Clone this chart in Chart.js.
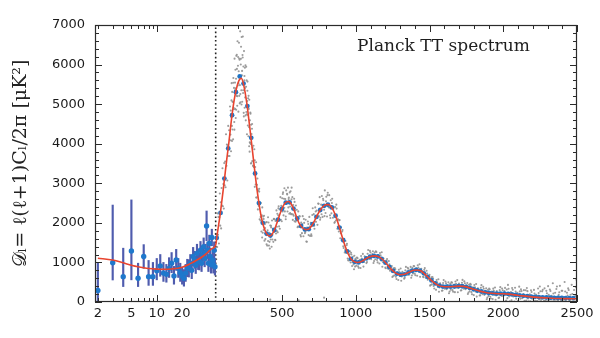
<!DOCTYPE html>
<html><head><meta charset="utf-8">
<script src="https://cdn.jsdelivr.net/npm/chart.js@4.4.1/dist/chart.umd.min.js"></script>
<style>html,body{margin:0;padding:0;background:#fff}</style>
</head><body>
<canvas id="c" width="600" height="338"></canvas>
<script>
// ---- best-fit model curve (multipole, D_ell in muK^2) ----
const modelEll = [2,3,4,5,6,7,8,10,12,15,20,25,30,35,40,45,50,60,70,80,90,100,110,125,140,160,180,200,215,225,240,260,280,300,320,340,360,380,400,415,430,450,470,490,510,530,545,560,580,600,620,640,660,680,700,720,740,760,780,800,815,830,850,870,890,910,930,950,970,990,1010,1030,1050,1080,1110,1130,1150,1180,1210,1240,1270,1300,1330,1360,1390,1415,1440,1470,1500,1530,1560,1590,1620,1660,1700,1730,1760,1800,1840,1880,1920,1960,2000,2040,2080,2130,2180,2230,2280,2330,2380,2430,2500];
const modelD = [1105,1060,990,930,890,865,848,832,826,835,880,970,1060,1150,1250,1350,1440,1700,1950,2200,2500,2800,3120,3600,4050,4700,5200,5520,5640,5650,5480,5050,4450,3800,3150,2580,2130,1850,1700,1670,1700,1840,2050,2270,2440,2530,2540,2490,2340,2130,1960,1870,1830,1840,1920,2050,2200,2330,2420,2460,2460,2420,2300,2110,1870,1620,1390,1200,1080,1020,1000,1010,1050,1120,1160,1165,1150,1080,960,830,730,690,700,750,800,810,790,700,590,490,420,390,385,390,400,395,370,320,275,240,220,210,210,200,180,155,135,118,105,95,88,85,82];

// ---- low-ell points with error bars ----
const lowEll = [2,3,4,5,6,7,8,9,10,11,12,13,14,15,16,17,18,19,20,21,22,23,24,25,26,27,28,29,30,31,32,33,34,35,36,37,38,39,40,41,42,43,44,45,46,47,48,49];
const lowD   = [290,990,640,1290,600,1150,640,640,790,910,730,700,850,980,660,1060,850,740,660,600,730,860,850,980,800,1150,1060,930,1230,1030,1020,1310,980,1190,1400,1100,1250,1920,1310,980,1480,1150,940,1630,1060,940,1310,890];
const lowLo  = [-100,556,390,560,390,850,420,420,560,650,520,500,620,740,450,800,620,520,450,400,520,640,630,760,590,920,850,720,1000,820,810,1090,770,980,1180,890,1040,1550,1100,770,1270,940,730,1420,850,730,1100,680];
const lowHi  = [980,2450,1360,2580,980,1450,1050,1000,1100,1200,1000,950,1120,1250,900,1330,1100,980,880,820,950,1080,1070,1200,1020,1380,1280,1150,1460,1250,1230,1530,1190,1400,1620,1310,1460,2300,1520,1190,1690,1360,1150,1840,1270,1150,1520,1100];

// ---- binned high-ell points ----
const binEll = [57,83,109,135,161,187,213,239,265,291,317,343,369,395,421,447,473,499,525,551,577,603,629,655,681,707,733,759,785,811,837,863,889,915,941,967,993,1019,1045,1071,1097,1123,1149,1175,1201,1227,1253,1279,1305,1331,1357,1383,1409,1435,1461,1487,1513,1539,1565,1591,1617,1643,1669,1695,1721,1747,1773,1799,1825,1851,1877,1903,1929,1955,1981,2007,2033,2059,2085,2111,2137,2163,2189,2215,2241,2267,2293,2319,2345,2371,2397,2423,2449,2475];
const binD = [1620,2250,3120,3880,4720,5300,5700,5520,4950,4150,3250,2500,2000,1730,1680,1820,2080,2350,2510,2520,2360,2110,1920,1835,1840,1965,2150,2325,2430,2460,2390,2180,1880,1560,1280,1090,1015,1000,1040,1100,1145,1165,1150,1090,995,885,785,715,690,700,745,790,810,795,725,635,545,470,415,390,385,388,392,400,398,380,355,320,290,265,243,228,218,211,212,210,204,192,178,168,156,146,138,130,124,118,114,110,106,103,101,100,99,98];

// ---- unbinned scatter (grey), first set ----
const grayEll = [
51,54,57,60,63,66,69,72,75,78,81,84,87,90,93,96,99,102,105,108,111,114,117,120,123,126,129,132,135,138,141,144,147,150,
152,154,156,158,160,162,164,166,168,170,172,174,176,178,180,182,184,186,188,190,192,194,196,198,200,202,204,206,208,210,212,214,216,218,220,222,224,226,228,230,232,234,236,238,240,242,244,246,248,250,252,254,256,258,260,262,264,266,268,270,272,274,276,278,280,282,284,286,288,290,292,294,296,298,300,
303,306,309,312,315,318,321,324,327,330,333,336,339,342,345,348,351,354,357,360,363,366,369,372,375,378,381,384,387,390,393,396,399,402,405,408,411,414,417,420,423,426,429,432,435,438,441,444,447,450,453,456,459,462,465,468,471,474,477,480,483,486,489,492,495,498,501,504,507,510,513,516,519,522,525,528,531,534,537,540,543,546,549,552,555,558,561,564,567,570,573,576,579,582,585,588,591,594,597,600,
605,610,615,620,625,630,635,640,645,650,655,660,665,670,675,680,685,690,695,700,705,710,715,720,725,730,735,740,745,750,755,760,765,770,775,780,785,790,795,800,805,810,815,820,825,830,835,840,845,850,855,860,865,870,875,880,885,890,895,900,905,910,915,920,925,930,935,940,945,950,955,960,965,970,975,980,985,990,995,1000,
1008,1016,1024,1032,1040,1048,1056,1064,1072,1080,1088,1096,1104,1112,1120,1128,1136,1144,1152,1160,1168,1176,1184,1192,1200,1208,1216,1224,1232,1240,1248,1256,1264,1272,1280,1288,1296,1304,1312,1320,1328,1336,1344,1352,1360,1368,1376,1384,1392,1400,1408,1416,1424,1432,1440,1448,1456,1464,1472,1480,1488,1496,1504,1512,1520,1528,1536,1544,1552,1560,1568,1576,1584,1592,1600,1608,1616,1624,1632,1640,1648,1656,1664,1672,1680,1688,1696,1704,1712,1720,1728,1736,1744,1752,1760,1768,1776,1784,1792,1800,1808,1816,1824,1832,1840,1848,1856,1864,1872,1880,1888,1896,1904,1912,1920,1928,1936,1944,1952,1960,1968,1976,1984,1992,2000,2008,2016,2024,2032,2040,2048,2056,2064,2072,2080,2088,2096,2104,2112,2120,2128,2136,2144,2152,2160,2168,2176,2184,2192,2200,2208,2216,2224,2232,2240,2248,2256,2264,2272,2280,2288,2296,2304,2312,2320,2328,2336,2344,2352,2360,2368,2376,2384,2392,2400,2408,2416,2424,2432,2440,2448,2456,2464,2472,2480,2488,2496,
420,612,785];
const grayD = [
1725,1080,1720,1390,2240,1700,2150,1480,2140,2740,1930,2520,1860,2880,2440,3380,2420,2980,2360,3510,2950,3550,2900,4240,3440,3980,3070,3960,4450,3690,4340,3690,4940,4230,
4840,3810,4670,5530,4450,5310,4360,5060,4110,5660,4910,5410,4550,6150,5350,4880,5870,4650,5640,6220,5210,5890,4960,6590,5470,6190,4810,5830,6550,5210,6120,5480,6840,5045,6000,6450,5350,6695,5730,5060,6240,6710,5280,5950,4780,6340,5600,4910,5920,5170,5980,4590,5440,4800,5600,4240,5080,5570,4460,5150,4190,4880,4420,5110,3800,4590,4020,4760,3990,4480,3510,4140,4380,3560,3900,
3450,3950,3410,3860,2910,3410,2970,3530,2640,2960,3120,2340,2810,2430,2860,2090,2470,2060,2500,1780,2190,2390,1750,2160,1820,2180,1550,1970,1590,2010,1690,2020,1425,1815,1540,2010,1425,1750,1350,1935,1580,1885,1395,2060,1580,1850,1520,2095,1770,2090,1570,2050,1730,2315,1900,2230,1760,2190,2420,1910,2340,2070,2650,2080,2360,2040,2620,2290,2770,2190,2610,2875,2290,2600,2160,2820,2480,2735,2288,2890,2390,2640,2230,2770,2415,2800,2220,2595,2220,2650,2075,2450,2180,2610,2040,2310,2030,2440,2060,2330,
1890,2290,1900,2160,1690,2010,1740,2170,1660,2000,1740,2080,1530,1882,2035,1690,2150,1670,2000,1670,2200,1935,2220,1850,2390,2025,2310,1950,2490,2170,2650,2130,2460,2680,2150,2570,2330,2820,2250,2660,2160,2760,2410,2700,2190,2570,2240,2610,2130,2400,2000,2400,2060,2360,1850,2090,1780,2070,1610,1890,1580,1820,1410,1600,1250,1540,1240,1470,1100,1300,1050,1280,1000,1200,910,1145,950,1170,895,1070,
1123,900,1047,861,1100,1215,1012,1093,983,1220,1110,1291,1084,1210,984,1250,1283,1061,1180,973,1178,1257,1008,1034,868,1048,896,1033,792,880,630,852,858,637,747,557,758,845,646,705,590,799,702,867,686,810,612,865,910,716,844,665,871,953,745,783,638,813,672,790,563,647,413,625,632,406,507,307,499,575,367,414,286,481,369,518,321,431,222,462,498,300,427,249,461,553,355,410,289,487,374,521,321,423,204,434,459,249,364,174,374,454,245,291,164,357,241,383,181,285,70,306,337,134,256,73,281,368,167,220,100,300,190,340,144,278,20,314,432,139,211,42,308,154,360,85,231,10,268,320,96,198,29,296,352,89,156,15,251,98,306,33,180,18,225,393,51,269,127,345,24,222,401,59,277,156,475,23,232,330,60,179,408,37,286,116,506,25,235,344,44,184,433,63,302,152,562,
60,40,110];

// ---- unbinned scatter (grey), second set ----
const grayEll2 = [
153,157,161,165,169,173,177,181,185,189,193,197,201,205,209,213,217,221,225,229,233,237,241,245,249,253,257,261,265,269,273,277,281,285,289,293,297,
305,315,325,335,345,355,365,375,385,395,405,415,425,435,445,455,465,475,485,495,505,515,525,535,545,555,565,575,585,595,
608,618,628,638,648,658,668,678,688,698,708,718,728,738,748,758,768,778,788,798,808,818,828,838,848,858,868,878,888,898,908,918,928,938,948,958,968,978,988,998,
1004,1012,1020,1028,1036,1044,1052,1060,1068,1076,1084,1092,1100,1108,1116,1124,1132,1140,1148,1156,1164,1172,1180,1188,1196,1204,1212,1220,1228,1236,1244,1252,1260,1268,1276,1284,1292,1300,1308,1316,1324,1332,1340,1348,1356,1364,1372,1380,1388,1396,1404,1412,1420,1428,1436,1444,1452,1460,1468,1476,1484,1492,1500,1508,1516,1524,1532,1540,1548,1556,1564,1572,1580,1588,1596,1604,1612,1620,1628,1636,1644,1652,1660,1668,1676,1684,1692,1700,1708,1716,1724,1732,1740,1748,1756,1764,1772,1780,1788,1796,1804,1812,1820,1828,1836,1844,1852,1860,1868,1876,1884,1892,1900,1908,1916,1924,1932,1940,1948,1956,1964,1972,1980,1988,1996,2004,2012,2020,2028,2036,2044,2052,2060,2068,2076,2084,2092,2100,2108,2116,2124,2132,2140,2148,2156,2164,2172,2180,2188,2196,2204,2212,2220,2228,2236,2244,2252,2260,2268,2276,2284,2292,2300,2308,2316,2324,2332,2340,2348,2356,2364,2372,2380,2388,2396,2404,2412,2420,2428,2436,2444,2452,2460,2468,2476,2484,2492];
const grayD2 = [
4085,5095,4070,5060,5540,4870,4355,5545,5400,4860,6250,5200,5970,5525,6155,5020,5257,6145,4990,5840,6180,5350,4690,5710,5405,4715,5945,4745,5340,4725,5210,3935,4035,4785,3500,4245,4500,
3430,3580,2640,2840,2790,2150,1630,2100,1870,1460,2140,1520,1925,1700,2100,1560,1790,2370,1850,2430,2730,2380,2090,2715,2600,2245,2890,2210,2530,2150,
1906,2173,1656,1968,2097,1769,1522,1970,1904,1712,2370,1930,2286,2163,2480,2078,2216,2608,2171,2543,2702,2389,2122,2502,2354,2022,2460,1900,2066,1738,1780,1366,1312,1436,1052,1206,1244,1008,829,1096,
919,1108,863,1064,1162,1009,894,1155,1127,1012,1315,1086,1250,1148,1284,1033,1079,1264,1001,1176,1240,1051,890,1096,1012,854,1086,838,950,819,910,651,671,826,580,746,814,657,537,761,722,610,887,682,839,754,887,669,723,905,677,854,927,765,636,839,770,624,857,605,716,591,688,429,445,595,340,496,555,387,258,470,418,292,554,333,474,375,497,266,311,489,260,438,517,365,246,466,421,298,559,336,474,367,479,238,272,438,197,363,430,266,136,347,296,168,426,198,334,229,345,110,150,323,89,262,337,180,58,276,232,111,375,155,297,193,356,39,97,334,16,252,353,139,12,265,201,32,388,85,276,138,299,8,37,274,20,193,296,83,14,213,150,22,340,63,271,99,307,30,34,282,18,179,317,66,10,213,132,20,390,39,248,77,286,14,16,265,12,164,304,54,8,203,122,10,382];

// ---- axis ticks ----
const xTickLabels = [2,5,10,20,500,1000,1500,2000,2500];
const xTickMarks = [2,3,4,5,6,7,8,9,10,20,30,40,100,200,300,400,500,600,700,800,900,1000,1100,1200,1300,1400,1500,1600,1700,1800,1900,2000,2100,2200,2300,2400,2500];
const xLongTicks = [10,500,1000,1500,2000,2500];
const splitEll = 50;

// hybrid axis: logarithmic below ell=50, linear above
const L_MIN = 1.85, PX_DEC = 84.4;
const LOG_W = PX_DEC * Math.log10(splitEll / L_MIN);
const LIN_K = 361.8 / 2450;
const toU = l => l <= splitEll ? PX_DEC * Math.log10(l / L_MIN) : LOG_W + (l - splitEll) * LIN_K;
const U_MAX = toU(2500);
const pts = (ls, ds) => ls.map((l, i) => ({x: toU(l), y: ds[i]}));

const decor = {
  id: 'decor',
  afterDatasetsDraw(chart) {
    const {ctx, chartArea: a, scales: {x, y}} = chart;
    ctx.save();
    ctx.strokeStyle = '#2b2b2b';
    ctx.lineWidth = 1;
    ctx.beginPath();
    for (const l of xTickMarks) {
      const px = Math.round(x.getPixelForValue(toU(l))) + 0.5;
      const len = xLongTicks.includes(l) ? 7 : 4;
      ctx.moveTo(px, a.bottom); ctx.lineTo(px, a.bottom - len);
      ctx.moveTo(px, a.top); ctx.lineTo(px, a.top + len);
    }
    for (let v = 0; v <= 7000; v += 200) {
      const py = Math.round(y.getPixelForValue(v)) + 0.5;
      const len = v % 1000 === 0 ? 7 : 4;
      ctx.moveTo(a.left, py); ctx.lineTo(a.left + len, py);
      ctx.moveTo(a.right, py); ctx.lineTo(a.right - len, py);
    }
    ctx.stroke();
    ctx.lineWidth = 1.2;
    ctx.strokeRect(a.left + 0.5, a.top + 0.5, a.right - a.left - 1, a.bottom - a.top - 1);
    ctx.fillStyle = '#1e1e1e';
    ctx.font = '17px "DejaVu Serif"';
    ctx.textBaseline = 'middle';
    ctx.fillText('Planck TT spectrum', a.left + 262, a.top + 22);
    ctx.restore();
  }
};

const grayPts = pts(grayEll, grayD).concat(pts(grayEll2, grayD2));

new Chart(document.getElementById('c'), {
  type: 'scatter',
  data: {
    datasets: [
      {type: 'line', data: pts(modelEll, modelD), borderColor: '#e8442f', borderWidth: 1.6, pointRadius: 0, cubicInterpolationMode: 'monotone', fill: false, order: 1},
      {type: 'scatter', data: pts(binEll, binD), backgroundColor: '#1f73c4', pointRadius: 2.4, borderWidth: 0, order: 2},
      {type: 'scatter', data: pts(lowEll, lowD), backgroundColor: '#1f78cc', pointRadius: 2.7, borderWidth: 0, order: 2},
      {type: 'bar', data: lowEll.map((l, i) => ({x: toU(l), y: [lowLo[i], lowHi[i]]})), backgroundColor: '#4f5cae', barThickness: 1.5, grouped: false, order: 3},
      {type: 'line', data: [{x: toU(splitEll), y: 0}, {x: toU(splitEll), y: 7000}], borderColor: '#222', borderWidth: 1.6, borderDash: [1.6, 2.6], pointRadius: 0, order: 4},
      {type: 'scatter', data: grayPts, backgroundColor: 'rgba(145,145,145,0.9)', pointRadius: 1.05, borderWidth: 0, order: 5}
    ]
  },
  options: {
    responsive: false, animation: false, devicePixelRatio: 1, events: [],
    layout: {padding: {top: 25, right: 23, bottom: 0, left: 0}},
    plugins: {legend: {display: false}, tooltip: {enabled: false}},
    scales: {
      x: {
        type: 'linear', min: 0, max: U_MAX, offset: false,
        grid: {display: false, drawTicks: false}, border: {display: false},
        afterBuildTicks: s => { s.ticks = xTickLabels.map(l => ({value: toU(l)})); },
        ticks: {autoSkip: false, maxRotation: 0, padding: 4, color: '#1a1a1a', font: {family: 'DejaVu Sans', size: 13},
                callback: (v, i) => String(xTickLabels[i])},
        afterFit: s => { s.height = 36; }
      },
      y: {
        type: 'linear', min: 0, max: 7000,
        grid: {display: false, drawTicks: false}, border: {display: false},
        ticks: {stepSize: 1000, padding: 10, color: '#1a1a1a', font: {family: 'DejaVu Sans', size: 13},
                callback: v => String(v)},
        title: {display: true, text: '𝒟ₗ= ℓ(ℓ+1)Cₗ/2π [μK²]', color: '#222', font: {family: 'DejaVu Serif', size: 19}, padding: {top: 10, bottom: 0}},
        afterFit: s => { s.width = 95; }
      }
    }
  },
  plugins: [decor]
});
</script>
</body></html>
